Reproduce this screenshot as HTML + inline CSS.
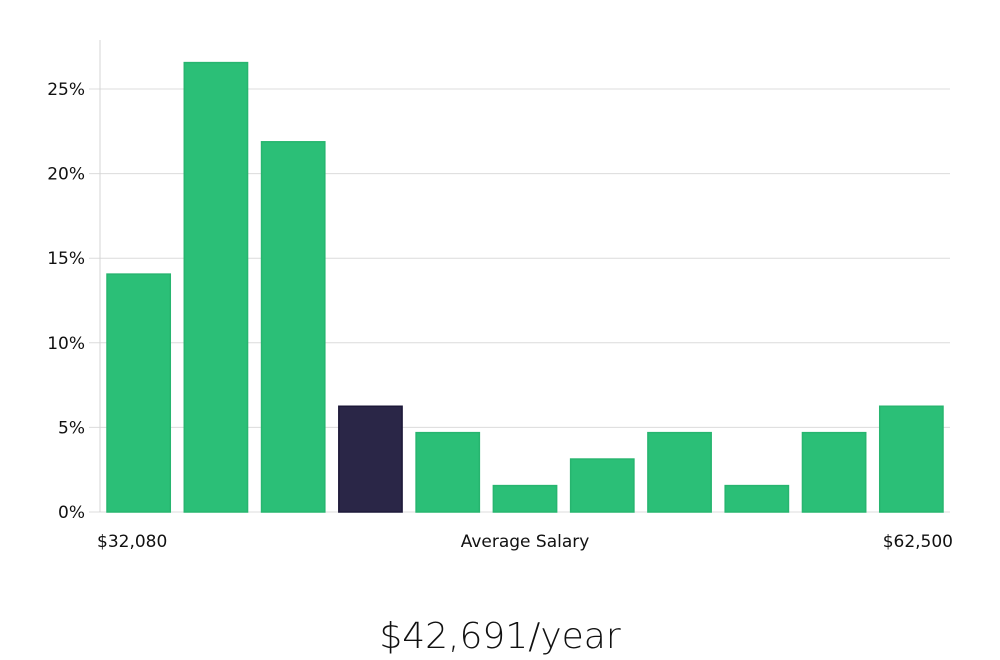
<!DOCTYPE html>
<html><head><meta charset="utf-8"><style>
html,body{margin:0;padding:0;background:#fff;width:1000px;height:660px;overflow:hidden}
svg text{font-family:"DejaVu Sans","Liberation Sans",sans-serif;fill:#111}
</style></head><body>
<svg id="chart" width="1000" height="660" xmlns="http://www.w3.org/2000/svg"></svg>
<script>
const categories=["b1","b2","b3","b4","b5","b6","b7","b8","b9","b10","b11"];
const values=[14.06,26.56,21.88,6.25,4.69,1.56,3.13,4.69,1.56,4.69,6.25];
const highlight=[false,false,false,true,false,false,false,false,false,false,false];
const yTicks=[0,5,10,15,20,25];
const yTickLabels=["0%","5%","10%","15%","20%","25%"];
const xLabels=["$32,080","Average Salary","$62,500"];
const title="$42,691/year";

const svg=document.getElementById('chart');
const NS='http://www.w3.org/2000/svg';
const x0=100,x1=950,y0=512,yTop=89;
const y=v=>y0-(v/25)*(y0-yTop);
const step=(x1-x0)/categories.length;
const bx=i=>x0+7+i*step;
const bw=step-14;
function mk(t,a){const e=document.createElementNS(NS,t);for(const k in a)e.setAttribute(k,a[k]);svg.appendChild(e);return e;}
yTicks.forEach((t,i)=>{
  const g=mk('line',{x1:89,x2:x1,y1:y(t),y2:y(t),stroke:'#dcdcdc','stroke-width':1});
  
  
  const l=mk('text',{x:85,y:y(t)+6,'text-anchor':'end','font-size':17});
  l.textContent=yTickLabels[i];
  
  
});
const ax=mk('line',{x1:x0,x2:x0,y1:40,y2:y0,stroke:'#d4d4d4','stroke-width':1});


values.forEach((v,i)=>{
  const r=mk('rect',{x:bx(i),y:y(v),width:bw,height:y0-y(v),fill:highlight[i]?'#2a2647':'#2bbf77',stroke:highlight[i]?'#1c1838':'#27b56f','stroke-width':1.5});
  
  
});
const xl=[[97,'start'],[525,'middle'],[953,'end']];
xLabels.forEach((s,i)=>{
  const t=mk('text',{x:xl[i][0],y:547,'text-anchor':xl[i][1],'font-size':17});
  t.textContent=s;
  
  
});
const tt=mk('text',{x:500,y:648,'text-anchor':'middle','font-size':36,'font-weight':300});
tt.setAttribute('font-family','"Liberation Sans",sans-serif');
tt.textContent=title;


</script>
</body></html>
